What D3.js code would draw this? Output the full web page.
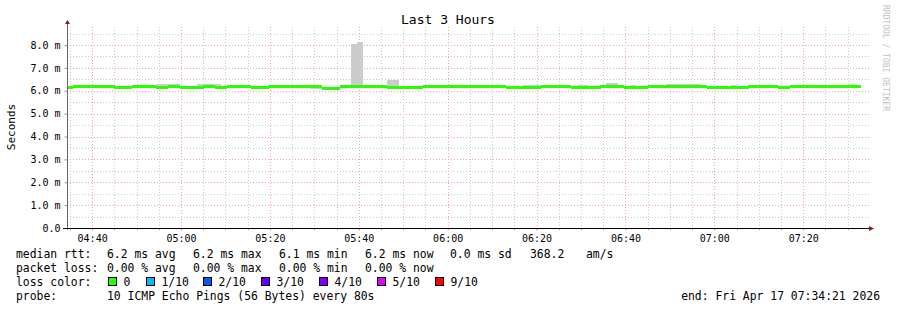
<!DOCTYPE html>
<html>
<head>
<meta charset="utf-8">
<script src="https://cdn.jsdelivr.net/npm/d3@7"></script>
<style>
  body { margin: 0; background: #fff; }
  svg { display: block; font-family: "DejaVu Sans Mono", monospace; }
</style>
</head>
<body>
<div class="chart-container"></div>
<script>
// median rtt per 80s sample (ms)
var median = [
  6.14,
  6.19, 6.19, 6.19, 6.19, 6.19,
  6.18, 6.18,
  6.13, 6.13, 6.13,
  6.19, 6.19, 6.19, 6.19,
  6.15, 6.15,
  6.18, 6.18,
  6.14, 6.14, 6.14, 6.14,
  6.19, 6.19,
  6.14, 6.14,
  6.19, 6.19, 6.19, 6.19,
  6.13, 6.13, 6.13,
  6.19, 6.19, 6.19, 6.19, 6.19,
  6.18, 6.18, 6.18, 6.18,
  6.12, 6.12, 6.12,
  6.18, 6.18, 6.18, 6.18,
  6.17, 6.17, 6.17, 6.17,
  6.14, 6.14, 6.14, 6.14, 6.14, 6.14,
  6.18, 6.18, 6.18, 6.18, 6.18, 6.18, 6.18, 6.18,
  6.18, 6.18, 6.18, 6.18, 6.18, 6.18,
  6.15, 6.15, 6.15, 6.15, 6.15, 6.15,
  6.19, 6.19, 6.19, 6.19, 6.19,
  6.14, 6.14, 6.14, 6.14, 6.14,
  6.18, 6.18, 6.18, 6.18,
  6.16, 6.16, 6.16, 6.16,
  6.19, 6.19, 6.19, 6.19,
  6.19, 6.19, 6.19, 6.19, 6.19, 6.19,
  6.15, 6.15,
  6.13, 6.13, 6.13, 6.13, 6.13,
  6.17, 6.17, 6.17, 6.17, 6.17,
  6.13, 6.13,
  6.18, 6.18, 6.18, 6.18, 6.18, 6.18, 6.18, 6.18, 6.18, 6.18, 6.18,
  6.20
];

// smoke: highest ping per sample (ms)
var smokeMax = [
  6.18,
  6.23, 6.23, 6.23, 6.23, 6.23,
  6.25, 6.25,
  6.17, 6.17, 6.17,
  6.23, 6.23, 6.23, 6.23,
  6.29, 6.29,
  6.29, 6.29,
  6.18, 6.18, 6.18,
  6.28,
  6.28, 6.28,
  6.28,
  6.18,
  6.23, 6.23, 6.23, 6.23,
  6.17, 6.17, 6.17,
  6.23, 6.23, 6.23, 6.23, 6.23,
  6.27, 6.27, 6.27,
  6.22,
  6.16, 6.16, 6.16,
  6.22, 6.22,
  8.05,
  8.13,
  6.21, 6.21, 6.21, 6.21,
  6.47, 6.47,
  6.18, 6.18, 6.18, 6.18,
  6.22, 6.22, 6.22, 6.22, 6.22,
  6.27,
  6.22, 6.22,
  6.22, 6.22,
  6.26, 6.26,
  6.22, 6.22,
  6.19, 6.19, 6.19,
  6.24, 6.24, 6.24,
  6.23, 6.23, 6.23, 6.23, 6.23,
  6.18,
  6.24, 6.24,
  6.18, 6.18,
  6.22,
  6.33, 6.33,
  6.22,
  6.20,
  6.26,
  6.20, 6.20,
  6.23, 6.23, 6.23,
  6.28,
  6.28, 6.28, 6.28, 6.28, 6.28,
  6.23,
  6.19, 6.19,
  6.17, 6.17,
  6.23,
  6.17, 6.17,
  6.21, 6.21, 6.21, 6.21, 6.21,
  6.17, 6.17,
  6.22, 6.22, 6.22,
  6.27, 6.27,
  6.22, 6.22, 6.22,
  6.24, 6.24,
  6.22,
  6.24
];

// smoke: lowest ping per sample (ms)
var smokeMin = [
  6.09,
  6.14, 6.14, 6.14, 6.14, 6.14,
  6.13, 6.13,
  6.08, 6.08, 6.08,
  6.14, 6.14, 6.14, 6.14,
  6.10, 6.10,
  6.13, 6.13,
  6.09, 6.09, 6.09, 6.09,
  6.14, 6.14,
  6.09, 6.09,
  6.14, 6.14, 6.14, 6.14,
  6.08, 6.08, 6.08,
  6.14, 6.14, 6.14, 6.14, 6.14,
  6.13, 6.13, 6.07, 6.07,
  6.07, 6.07, 6.07,
  6.13, 6.13, 6.13, 6.13,
  6.12, 6.12, 6.12, 6.12,
  6.09, 6.09, 6.09, 6.09, 6.09, 6.09,
  6.13, 6.13, 6.13, 6.13, 6.13, 6.13, 6.13, 6.13,
  6.13, 6.13, 6.13, 6.13, 6.13, 6.13,
  6.10, 6.10, 6.10, 6.10, 6.10, 6.10,
  6.14, 6.14, 6.14, 6.14, 6.14,
  6.09, 6.09, 6.09, 6.09, 6.09,
  6.13, 6.13, 6.13, 6.13,
  6.11, 6.11, 6.11, 6.11,
  6.14, 6.14, 6.14, 6.14,
  6.14, 6.14, 6.14, 6.14, 6.14, 6.14,
  6.10, 6.10,
  6.08, 6.08, 6.08, 6.08, 6.08,
  6.12, 6.12, 6.12, 6.12, 6.12,
  6.08, 6.08,
  6.13, 6.13, 6.13, 6.13, 6.13, 6.13, 6.13, 6.13, 6.13, 6.13, 6.13,
  6.15
];

var yTicks = [0, 1, 2, 3, 4, 5, 6, 7, 8];
var stepSec = 80;
var startTime = new Date(2026, 3, 17, 4, 34, 21);
var endTime = new Date(2026, 3, 17, 7, 34, 21);

var legendRows = [
  { label: "median rtt:", items: ["6.2 ms avg", "6.2 ms max", "6.1 ms min", "6.2 ms now", "0.0 ms sd", "368.2", "am/s"],
    xs: [107, 193, 279, 365, 450, 530, 586] },
  { label: "packet loss:", items: ["0.00 % avg", "0.00 % max", "0.00 % min", "0.00 % now"],
    xs: [107, 193, 279, 365] }
];
var lossLabels = ["0", "1/10", "2/10", "3/10", "4/10", "5/10", "9/10"];
var lossColors = ["#26ff00", "#00b8ff", "#0059ff", "#5e00ff", "#7e00ff", "#dd00ff", "#ff0000"];

var W = 897, H = 310;
var margin = {top: 27, right: 30, bottom: 82, left: 67},
    width = W - margin.left - margin.right,   // 800
    height = H - margin.top - margin.bottom;  // 201

var svg = d3.select(".chart-container").append("svg")
    .attr("width", W)
    .attr("height", H);

var x = d3.scaleTime()
    .domain([startTime, endTime])
    .range([margin.left, margin.left + width]);

var y = d3.scaleLinear()
    .domain([0, 8.787])
    .range([margin.top + height, margin.top]);

var x0 = margin.left, x1 = margin.left + width;
var yb = y(0), yt = margin.top;

// grid - minor first, then major
var grid = svg.append("g");
var minorY = d3.range(0.5, 8.6, 1);
grid.selectAll(".hminor").data(minorY).enter().append("line")
    .attr("x1", x0).attr("x2", x1 + 2)
    .attr("y1", function(d) { return Math.round(y(d)) + 0.5; })
    .attr("y2", function(d) { return Math.round(y(d)) + 0.5; })
    .attr("stroke", "#c8c8c8").attr("stroke-dasharray", "1,2");

var minorX = x.ticks(d3.timeMinute.every(5)).filter(function(d) { return d.getMinutes() % 20 !== 0; });
var majorX = x.ticks(d3.timeMinute.every(20));
grid.selectAll(".vminor").data(minorX).enter().append("line")
    .attr("x1", function(d) { return Math.round(x(d)) + 0.5; })
    .attr("x2", function(d) { return Math.round(x(d)) + 0.5; })
    .attr("y1", yt).attr("y2", yb)
    .attr("stroke", "#c8c8c8").attr("stroke-dasharray", "1,2");

grid.selectAll(".hmajor").data(yTicks.slice(1)).enter().append("line")
    .attr("x1", x0).attr("x2", x1 + 2)
    .attr("y1", function(d) { return Math.round(y(d)) + 0.5; })
    .attr("y2", function(d) { return Math.round(y(d)) + 0.5; })
    .attr("stroke", "#f4a4a4").attr("stroke-dasharray", "1,2");
grid.selectAll(".vmajor").data(majorX).enter().append("line")
    .attr("x1", function(d) { return Math.round(x(d)) + 0.5; })
    .attr("x2", function(d) { return Math.round(x(d)) + 0.5; })
    .attr("y1", yt).attr("y2", yb)
    .attr("stroke", "#f4a4a4").attr("stroke-dasharray", "1,2");

// samples
var samples = median.map(function(m, i) {
  return {
    t0: new Date(startTime.getTime() + i * stepSec * 1000),
    t1: new Date(startTime.getTime() + (i + 1) * stepSec * 1000),
    med: m, lo: smokeMin[i], hi: smokeMax[i]
  };
});

// smoke
svg.append("g").selectAll("rect").data(samples).enter().append("rect")
    .attr("x", function(d) { return x(d.t0); })
    .attr("width", function(d) { return x(d.t1) - x(d.t0); })
    .attr("y", function(d) { return y(d.hi); })
    .attr("height", function(d) { return y(d.lo) - y(d.hi); })
    .attr("fill", "#cccccc")
    .attr("shape-rendering", "crispEdges");

// median (loss colour 0)
svg.append("g").selectAll("rect").data(samples).enter().append("rect")
    .attr("x", function(d) { return x(d.t0); })
    .attr("width", function(d) { return x(d.t1) - x(d.t0) + 0.3; })
    .attr("y", function(d) { return y(d.med) - 1.5; })
    .attr("height", 3)
    .attr("fill", lossColors[0])
    .attr("shape-rendering", "crispEdges");

// axes
var yAxis = d3.axisLeft(y)
    .tickValues(yTicks)
    .tickSize(3)
    .tickPadding(4)
    .tickFormat(function(d) { return d === 0 ? "0.0" : d.toFixed(1) + " m"; });
var gy = svg.append("g")
    .attr("transform", "translate(" + (x0 + 0.5) + ",0)")
    .call(yAxis);
gy.select(".domain").remove();
gy.selectAll("text").attr("font-size", 10).attr("font-family", "DejaVu Sans Mono").attr("fill", "#000");
gy.selectAll("line").attr("stroke", "#999");

var xAxis = d3.axisBottom(x)
    .tickValues(majorX)
    .tickSize(2)
    .tickPadding(4)
    .tickFormat(d3.timeFormat("%H:%M"));
var gx = svg.append("g")
    .attr("transform", "translate(0," + (yb + 0.5) + ")")
    .call(xAxis);
gx.select(".domain").remove();
gx.selectAll("text").attr("font-size", 10).attr("font-family", "DejaVu Sans Mono").attr("fill", "#000");
gx.selectAll("line").attr("stroke", "#f08080");
gx.selectAll(".minor").data(minorX).enter().append("line")
    .attr("x1", function(d) { return Math.round(x(d)) + 0.5; })
    .attr("x2", function(d) { return Math.round(x(d)) + 0.5; })
    .attr("y1", 0).attr("y2", 2)
    .attr("stroke", "#bbb");

// axis lines with arrows
svg.append("line")
    .attr("x1", x0 + 0.5).attr("x2", x0 + 0.5)
    .attr("y1", yb + 2).attr("y2", yt - 4)
    .attr("stroke", "#666");
svg.append("path")
    .attr("d", "M" + (x0 - 2) + "," + (yt - 3) + "L" + (x0 + 3) + "," + (yt - 3) + "L" + (x0 + 0.5) + "," + (yt - 7) + "Z")
    .attr("fill", "#8b1a1a");
svg.append("line")
    .attr("x1", x0 - 4).attr("x2", x1 + 3)
    .attr("y1", yb + 0.5).attr("y2", yb + 0.5)
    .attr("stroke", "#000");
svg.append("path")
    .attr("d", "M" + (x1 + 2) + "," + (yb - 2) + "L" + (x1 + 2) + "," + (yb + 3) + "L" + (x1 + 7) + "," + (yb + 0.5) + "Z")
    .attr("fill", "#8b1a1a");

// title & labels
svg.append("text")
    .attr("x", 448).attr("y", 24)
    .attr("text-anchor", "middle")
    .attr("font-size", 13)
    .text("Last 3 Hours");

svg.append("text")
    .attr("transform", "translate(15,127) rotate(-90)")
    .attr("text-anchor", "middle")
    .attr("font-size", 11)
    .text("Seconds");

svg.append("text")
    .attr("transform", "translate(883,5) rotate(90)")
    .attr("font-size", 8)
    .attr("fill", "#c0c0c0")
    .text("RRDTOOL / TOBI OETIKER");

// legend
var legend = svg.append("g").attr("font-size", 11.4).attr("fill", "#000");
var rowY = [258, 272, 286, 300];
legendRows.forEach(function(r, k) {
  legend.append("text").attr("x", 16).attr("y", rowY[k]).text(r.label);
  r.items.forEach(function(s, j) {
    legend.append("text").attr("x", r.xs[j]).attr("y", rowY[k]).text(s);
  });
});
legend.append("text").attr("x", 16).attr("y", rowY[2]).text("loss color:");
var lossX = [108.5, 166.5, 224.5, 282.5, 340.5, 398.5, 456.5];
lossX = [108.5, 146.5, 203.5, 261.5, 319.5, 377.5, 435.5];
lossLabels.forEach(function(l, j) {
  legend.append("rect")
    .attr("x", lossX[j]).attr("y", rowY[2] - 8.5)
    .attr("width", 8).attr("height", 8)
    .attr("fill", lossColors[j])
    .attr("stroke", "#000");
  legend.append("text").attr("x", lossX[j] + 15).attr("y", rowY[2]).text(l);
});
legend.append("text").attr("x", 16).attr("y", rowY[3]).text("probe:");
legend.append("text").attr("x", 107).attr("y", rowY[3]).text("10 ICMP Echo Pings (56 Bytes) every 80s");
legend.append("text").attr("x", 880).attr("y", rowY[3]).attr("text-anchor", "end").text("end: Fri Apr 17 07:34:21 2026");
</script>
</body>
</html>
